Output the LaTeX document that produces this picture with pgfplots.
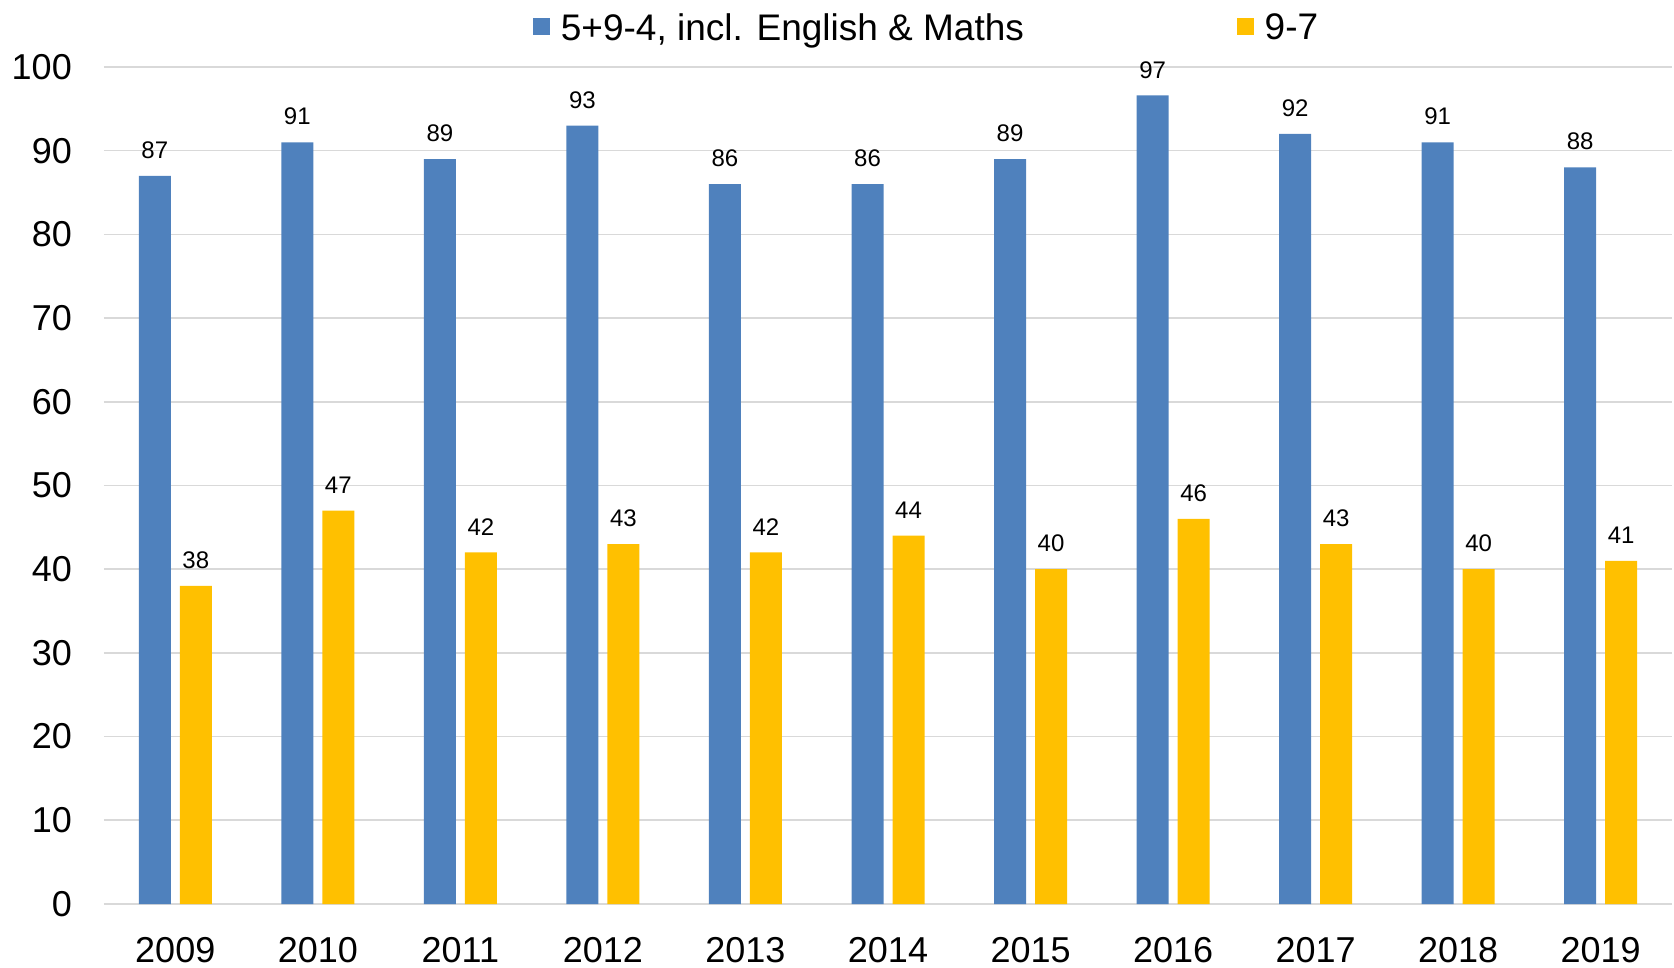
\documentclass[border=0pt]{standalone}
\usepackage{fontspec}
\setmainfont{Liberation Sans}
\usepackage{pgfplots}
\pgfplotsset{compat=1.18}
\definecolor{cblue}{HTML}{4F81BD}
\definecolor{cyellow}{HTML}{FFC000}
\definecolor{gridgray}{HTML}{D9D9D9}
\begin{document}
\begin{tikzpicture}
\begin{axis}[
  name=ax,
  scale only axis,
  width=1568pt, height=837pt,
  ybar=9pt, bar width=32pt,
  xmin=-0.5, xmax=10.5, ymin=0, ymax=100,
  ytick={0,10,...,100},
  xtick={0,...,10},
  xticklabels={2009,2010,2011,2012,2013,2014,2015,2016,2017,2018,2019},
  /pgf/number format/assume math mode=true,
  axis line style={draw=none},
  major tick length=0pt,
  ymajorgrids,
  major grid style={draw=gridgray, line width=1.6pt},
  yticklabel style={font=\fontsize{36}{40}\selectfont, anchor=east, inner sep=0pt, xshift=-32pt},
  xticklabel style={font=\fontsize{36}{40}\selectfont, anchor=north, inner sep=0pt, yshift=-33pt},
  point meta=explicit symbolic,
  nodes near coords,
  nodes near coords style={font=\fontsize{24}{28}\selectfont, anchor=south, inner sep=0pt, yshift=17pt, text=black},
  legend columns=2,
  legend style={at={(0.2736,1.0478)}, anchor=west, draw=none, fill=none, inner sep=0pt,
    font=\fontsize{37}{40}\selectfont,
    /tikz/every even column/.append style={column sep=213pt},
    nodes={inner sep=0pt, anchor=west, text depth=0pt}},
  legend image code/.code={\fill (0pt,-8.5pt) rectangle (17pt,8.5pt);},
  legend cell align=left,
]
\addplot[fill=cblue, draw=none] coordinates {(0,87)[87] (1,91)[91] (2,89)[89] (3,93)[93] (4,86)[86] (5,86)[86] (6,89)[89] (7,96.6)[97] (8,92)[92] (9,91)[91] (10,88)[88]};
\addplot[fill=cyellow, draw=none] coordinates {(0,38)[38] (1,47)[47] (2,42)[42] (3,43)[43] (4,42)[42] (5,44)[44] (6,40)[40] (7,46)[46] (8,43)[43] (9,40)[40] (10,41)[41]};
\legend{{\hspace*{10.7pt}5+9-4, incl. English \& Maths},{\hspace*{10.7pt}9-7}}
\end{axis}
\pgfresetboundingbox
\path ([shift={(-104pt,-64pt)}]ax.south west) rectangle ([shift={(2pt,67pt)}]ax.north east);
\end{tikzpicture}
\end{document}
